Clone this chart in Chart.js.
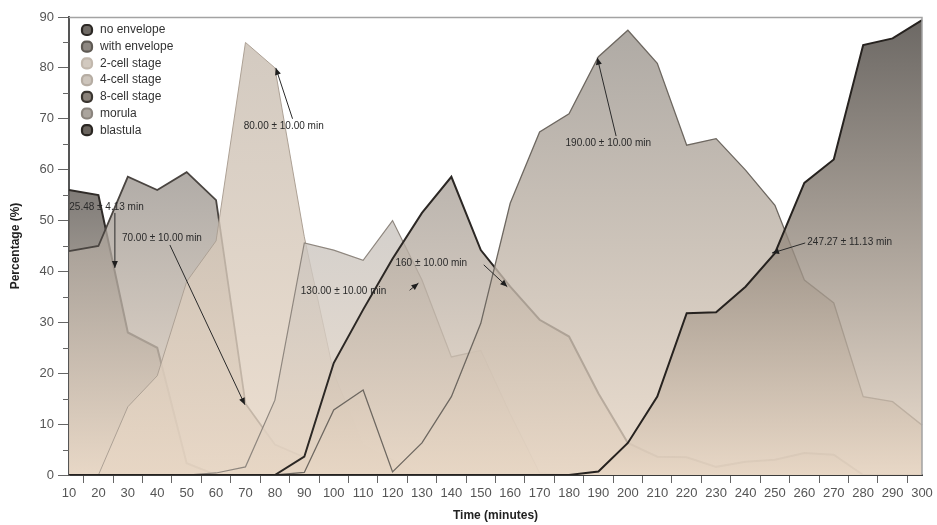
<!DOCTYPE html>
<html>
<head>
<meta charset="utf-8">
<script src="https://cdn.jsdelivr.net/npm/chart.js@4.4.0/dist/chart.umd.min.js"></script>
<style>
html,body{margin:0;padding:0;background:#fff;}
#wrap{width:937px;height:525px;position:relative;}
</style>
</head>
<body>
<div id="wrap"><canvas id="c" width="937" height="525"></canvas></div>
<script>
// ---- data ----
const timeLabels = ['10','20','30','40','50','60','70','80','90','100','110','120','130','140','150','160','170','180','190','200','210','220','230','240','250','260','270','280','290','300'];
const noEnvelope   = [56, 55, 28, 25, 2.3, 0, 0, 0, 0, 0, 0, 0, 0, 0, 0, 0, 0, 0, 0, 0, 0, 0, 0, 0, 0, 0, 0, 0, 0, 0];
const withEnvelope = [44, 45, 58.6, 56, 59.5, 54, 14, 6, 3.5, 0, 0, 0, 0, 0, 0, 0, 0, 0, 0, 0, 0, 0, 0, 0, 0, 0, 0, 0, 0, 0];
const twoCell      = [0, 0, 13.4, 19.5, 38, 46, 85, 80, 46.8, 20, 6, 3, 0, 0, 0, 0, 0, 0, 0, 0, 0, 0, 0, 0, 0, 0, 0, 0, 0, 0];
const fourCell     = [0, 0, 0, 0, 0, 0.4, 1.6, 14.7, 45.6, 44.2, 42.2, 50, 38.3, 23.2, 24.5, 12, 0.4, 0, 0, 0, 0, 0, 0, 0, 0, 0, 0, 0, 0, 0];
const eightCell    = [0, 0, 0, 0, 0, 0, 0, 0, 3.6, 22, 32.5, 42.5, 51.5, 58.6, 44.2, 37, 30.5, 27.2, 16, 6.3, 3.6, 3.5, 1.6, 2.6, 3, 4.3, 4, 0, 0, 0];
const morula       = [0, 0, 0, 0, 0, 0, 0, 0, 0.5, 12.8, 16.7, 0.6, 6.3, 15.4, 29.8, 53.4, 67.4, 71, 82.2, 87.4, 80.9, 64.8, 66.1, 59.9, 53, 38.3, 33.8, 15.4, 14.4, 9.8];
const blastula     = [0, 0, 0, 0, 0, 0, 0, 0, 0, 0, 0, 0, 0, 0, 0, 0, 0, 0, 0.7, 6.3, 15.4, 31.8, 32, 37, 43.6, 57.4, 62, 84.5, 85.8, 89.4];
const seriesNames  = ['no envelope','with envelope','2-cell stage','4-cell stage','8-cell stage','morula','blastula'];
const yMinorTicks  = [5, 15, 25, 35, 45, 55, 65, 75, 85];

// annotations: label, arrow head (time, %), arrow tail (time, %), text anchor (time, %)
const annotationLabels  = ['25.48 ± 4.13 min','70.00 ± 10.00 min','80.00 ± 10.00 min','130.00 ± 10.00 min','160 ± 10.00 min','190.00 ± 10.00 min','247.27 ± 11.13 min'];
const annotationHeads   = [[25.6,40.7],[69.8,13.8],[80.3,80],[128.8,37.7],[159,37],[189.6,82],[249,43.6]];
const annotationTails   = [[25.6,51.5],[44.3,45.2],[86,70],[125.8,36.3],[151,41.3],[196,66.6],[260.3,45.6]];
const annotationTextAt  = [[10.1,52.6],[28,46.6],[69.4,68.6],[88.8,36.2],[121,41.7],[178.8,65.2],[261,45.8]];

// ---- styles ----
const FONT = "'Liberation Sans', Arial, sans-serif";
const seriesData = [noEnvelope, withEnvelope, twoCell, fourCell, eightCell, morula, blastula];
const styles = [
  {peak:'#605b56', line:'#2f2b28', width:2,   icon:'#6f6a65', iconBorder:'#2c2825'},
  {peak:'#9d9791', line:'#4a4541', width:1.8, icon:'#8e8882', iconBorder:'#5e5953'},
  {peak:'#c8bdb1', line:'#ada195', width:1,   icon:'#d2c9bf', iconBorder:'#c2b8ad'},
  {peak:'#c9c4bf', line:'#8f877f', width:1.2, icon:'#cdc5bc', iconBorder:'#b6ada3'},
  {peak:'#aaa29a', line:'#2b2724', width:2,   icon:'#8a827a', iconBorder:'#3a3530'},
  {peak:'#9b958e', line:'#6e6861', width:1.3, icon:'#aaa49d', iconBorder:'#8a847d'},
  {peak:'#48433e', line:'#26221f', width:2,   icon:'#6a645e', iconBorder:'#2a2622'}
];
const FILL_ALPHA = 0.8;
const BOTTOM_TAN = 'rgba(231,214,196,0.8)';
function hexA(hex, a){
  const n = parseInt(hex.slice(1),16);
  return 'rgba(' + ((n>>16)&255) + ',' + ((n>>8)&255) + ',' + (n&255) + ',' + a + ')';
}
function fillFor(i){
  return (ctx) => {
    const ch = ctx.chart, a = ch.chartArea, ys = ch.scales && ch.scales.y;
    if (!a || !ys) return hexA(styles[i].peak, FILL_ALPHA);
    const top = ys.getPixelForValue(Math.max.apply(null, seriesData[i]));
    const g = ch.ctx.createLinearGradient(0, top, 0, a.bottom);
    g.addColorStop(0, hexA(styles[i].peak, FILL_ALPHA));
    g.addColorStop(1, BOTTOM_TAN);
    return g;
  };
}

function tIndex(t){ return (t - 10) / 10; }

const extras = {
  id: 'extras',
  afterDraw(chart){
    const {ctx, chartArea:a, scales:{x, y}} = chart;
    ctx.save();
    // plot frame (top & right)
    ctx.strokeStyle = '#a3a3a3'; ctx.lineWidth = 1.5;
    ctx.beginPath();
    ctx.moveTo(a.left, a.top + 0.5); ctx.lineTo(a.right, a.top + 0.5); ctx.lineTo(a.right, a.bottom);
    ctx.stroke();
    // minor y ticks
    ctx.strokeStyle = '#666'; ctx.lineWidth = 1;
    yMinorTicks.forEach(v => {
      const py = Math.round(y.getPixelForValue(v)) + 0.5;
      ctx.beginPath(); ctx.moveTo(a.left - 6, py); ctx.lineTo(a.left, py); ctx.stroke();
    });
    // annotations
    ctx.font = '10px ' + FONT; ctx.textBaseline = 'middle'; ctx.textAlign = 'left';
    annotationLabels.forEach((lab, i) => {
      const hx = x.getPixelForValue(tIndex(annotationHeads[i][0])), hy = y.getPixelForValue(annotationHeads[i][1]);
      const fx = x.getPixelForValue(tIndex(annotationTails[i][0])), fy = y.getPixelForValue(annotationTails[i][1]);
      const tx = x.getPixelForValue(tIndex(annotationTextAt[i][0])), ty = y.getPixelForValue(annotationTextAt[i][1]);
      ctx.strokeStyle = '#2a2a2a'; ctx.fillStyle = '#1e1e1e'; ctx.lineWidth = 1;
      ctx.beginPath(); ctx.moveTo(fx, fy); ctx.lineTo(hx, hy); ctx.stroke();
      const ang = Math.atan2(hy - fy, hx - fx), L = 7, W = 3;
      ctx.beginPath();
      ctx.moveTo(hx, hy);
      ctx.lineTo(hx - L*Math.cos(ang) + W*Math.sin(ang), hy - L*Math.sin(ang) - W*Math.cos(ang));
      ctx.lineTo(hx - L*Math.cos(ang) - W*Math.sin(ang), hy - L*Math.sin(ang) + W*Math.cos(ang));
      ctx.closePath(); ctx.fill();
      ctx.fillStyle = '#2a2a2a';
      ctx.fillText(lab, tx, ty);
    });
    // legend (inside plot, top-left)
    ctx.font = '12px ' + FONT; ctx.textBaseline = 'middle'; ctx.textAlign = 'left';
    seriesNames.forEach((name, i) => {
      const cy = a.top + 13 + i * 16.7, cx = a.left + 18;
      ctx.beginPath();
      if (ctx.roundRect) ctx.roundRect(cx - 5, cy - 5, 10, 10, 4); else ctx.arc(cx, cy, 5, 0, Math.PI*2);
      ctx.fillStyle = styles[i].icon; ctx.fill();
      ctx.lineWidth = 2.2; ctx.strokeStyle = styles[i].iconBorder; ctx.stroke();
      ctx.fillStyle = '#333';
      ctx.fillText(name, a.left + 31, cy);
    });
    ctx.restore();
  }
};

new Chart(document.getElementById('c'), {
  type: 'line',
  data: {
    labels: timeLabels,
    datasets: seriesNames.map((name, i) => ({
      label: name,
      data: seriesData[i],
      fill: 'origin',
      backgroundColor: fillFor(i),
      borderColor: styles[i].line,
      borderWidth: styles[i].width,
      pointRadius: 0,
      pointHoverRadius: 0,
      tension: 0,
      order: 6 - i
    }))
  },
  options: {
    responsive: false,
    animation: false,
    events: [],
    layout: {padding: {left: 0, right: 15, top: 17, bottom: 0}},
    plugins: {
      legend: {display: false},
      tooltip: {enabled: false}
    },
    scales: {
      x: {
        type: 'category',
        offset: false,
        grid: {offset: true, drawOnChartArea: false, drawTicks: true, tickLength: 8, color: '#666', lineWidth: 1},
        border: {color: '#3a3a3a', width: 2},
        ticks: {autoSkip: false, maxRotation: 0, minRotation: 0, color: '#555', padding: 3, font: {size: 13, family: FONT}},
        title: {display: true, text: 'Time (minutes)', color: '#222', font: {size: 12, weight: 'bold', family: FONT}, padding: {top: 0, bottom: 2}},
        afterFit(s){ s.height = 50; }
      },
      y: {
        min: 0, max: 90,
        grid: {drawOnChartArea: false, drawTicks: true, tickLength: 11, color: '#666', lineWidth: 1},
        border: {color: '#555', width: 2},
        ticks: {stepSize: 10, color: '#555', padding: 4, font: {size: 13, family: FONT}},
        title: {display: true, text: 'Percentage (%)', color: '#222', font: {size: 12, weight: 'bold', family: FONT}, padding: {top: 8, bottom: 0}},
        afterFit(s){ s.width = 69; }
      }
    }
  },
  plugins: [extras]
});
</script>
</body>
</html>
